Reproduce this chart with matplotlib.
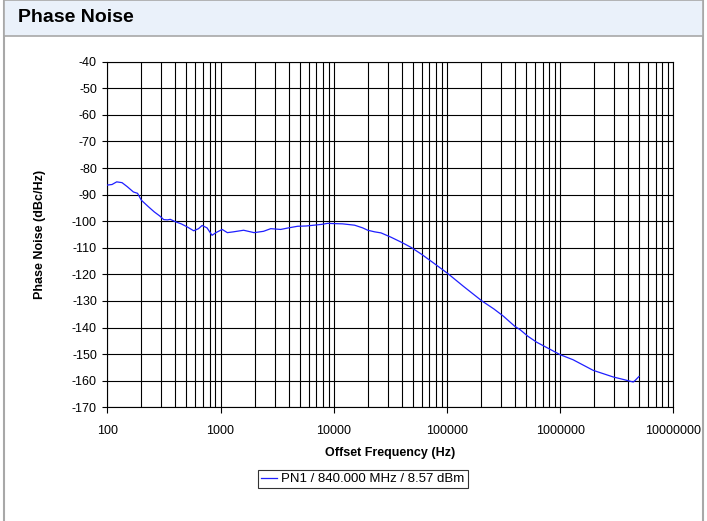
import numpy as np
import matplotlib
matplotlib.use('Agg')
import matplotlib.pyplot as plt
from matplotlib.patches import Rectangle
from matplotlib.lines import Line2D
from matplotlib.ticker import FixedLocator, NullFormatter

plt.rcParams['font.family'] = ['Liberation Sans', 'DejaVu Sans']
plt.rcParams['axes.unicode_minus'] = False

# offset frequency (Hz) and phase noise (dBc/Hz)
freq = [100, 110, 121, 135, 150, 170, 185, 200, 230, 260, 290, 315, 340, 360,
        400, 450, 506, 580, 640, 688, 760, 842, 920, 1035, 1150, 1300, 1600,
        1980, 2400, 2780, 3400, 4000, 4800, 5700, 6700, 7800, 8860, 10100,
        12000, 15300, 18000, 20000, 23000, 26200, 32000, 40000, 48500, 60000,
        75000, 102000, 140000, 204000, 260000, 315000, 397000, 443000, 520000,
        620000, 800000, 1.0e6, 1.3e6, 1.96e6, 2.95e6, 3.6e6, 4.43e6, 4.6e6,
        4.98e6]
pn = [-86.4, -86.2, -85.2, -85.5, -87.0, -89.0, -89.5, -92.1, -94.5, -96.5,
      -98.0, -99.4, -99.5, -99.3, -100.2, -101.0, -102.1, -103.6, -102.8,
      -101.6, -102.5, -105.3, -104.2, -103.1, -104.3, -104.0, -103.4, -104.3,
      -103.8, -102.8, -103.1, -102.5, -101.9, -101.8, -101.5, -101.2, -100.8,
      -100.9, -101.0, -101.5, -102.5, -103.4, -104.0, -104.4, -106.0, -108.0,
      -109.9, -112.5, -115.5, -119.7, -124.5, -130.0, -133.0, -135.7, -139.5,
      -140.8, -143.3, -145.5, -148.0, -150.2, -152.1, -156.1, -158.6, -159.5,
      -160.5, -159.9, -158.4]

series_label = 'PN1 / 840.000 MHz / 8.57 dBm'
title = 'Phase Noise'
xlabel = 'Offset Frequency (Hz)'
ylabel = 'Phase Noise (dBc/Hz)'
xticks = [100, 1000, 10000, 100000, 1000000, 10000000]
yticks = list(range(-170, -39, 10))

W, H = 707, 521
fig = plt.figure(figsize=(W / 100, H / 100), dpi=100)

# panel frame (open at the bottom) and header band
fig.patches.append(Rectangle((4 / W, -0.05), 699 / W, 1.05, transform=fig.transFigure,
                             facecolor='white', edgecolor='#a8a8a8', lw=1.5, zorder=0))
fig.patches.append(Rectangle((4 / W, 1 - 36 / H), 699 / W, 36 / H, transform=fig.transFigure,
                             facecolor='#eaf1fa', edgecolor='#a8a8a8', lw=1.2, zorder=1))
fig.text(18 / W, 1 - 18 / H, title, fontsize=14, fontweight='bold', va='center', ha='left')

ax = fig.add_axes([107.3 / W, 1 - 407.3 / H, 566 / W, 345.6 / H])
ax.set_zorder(5)
ax.semilogx(freq, pn, color='#1f1fff', lw=0.9, zorder=3)
ax.set_xlim(100, 1e7)
ax.set_ylim(-170, -40)

ax.xaxis.set_major_locator(FixedLocator(xticks))
ax.set_xticklabels([str(t) for t in xticks])
minor = [m * 10 ** e for e in range(2, 7) for m in range(2, 10)]
ax.xaxis.set_minor_locator(FixedLocator(minor))
ax.xaxis.set_minor_formatter(NullFormatter())
ax.set_yticks(yticks)

ax.grid(True, which='both', axis='x', color='black', lw=0.8)
ax.grid(True, which='major', axis='y', color='black', lw=0.8)
ax.tick_params(axis='x', which='major', direction='out', length=4, width=0.8, pad=9, labelsize=9)
ax.tick_params(axis='x', which='minor', length=0)
ax.tick_params(axis='y', direction='out', length=3.5, width=0.8, pad=4, labelsize=9)
for s in ax.spines.values():
    s.set_color('black')
    s.set_linewidth(0.8)

ax.set_xlabel(xlabel, fontsize=9, fontweight='bold')
ax.xaxis.set_label_coords(0.5, -(453 - 407.3) / 345.6)
ax.set_ylabel(ylabel, fontsize=9, fontweight='bold')
ax.yaxis.set_label_coords(-(107.3 - 40) / 566, 0.5)
ax.xaxis.label.set_va('center')
ax.yaxis.label.set_va('center')

handle = Line2D([], [], color='#1f1fff', lw=0.9)
leg = fig.legend([handle], [series_label], loc='center', bbox_to_anchor=(363 / W, 1 - 479 / H),
                 fontsize=9.5, frameon=True, fancybox=False, edgecolor='black',
                 handlelength=1.2, handletextpad=0.3, borderpad=0.25, borderaxespad=0)
leg.get_frame().set_linewidth(0.8)

fig.savefig('out.png', dpi=100)
